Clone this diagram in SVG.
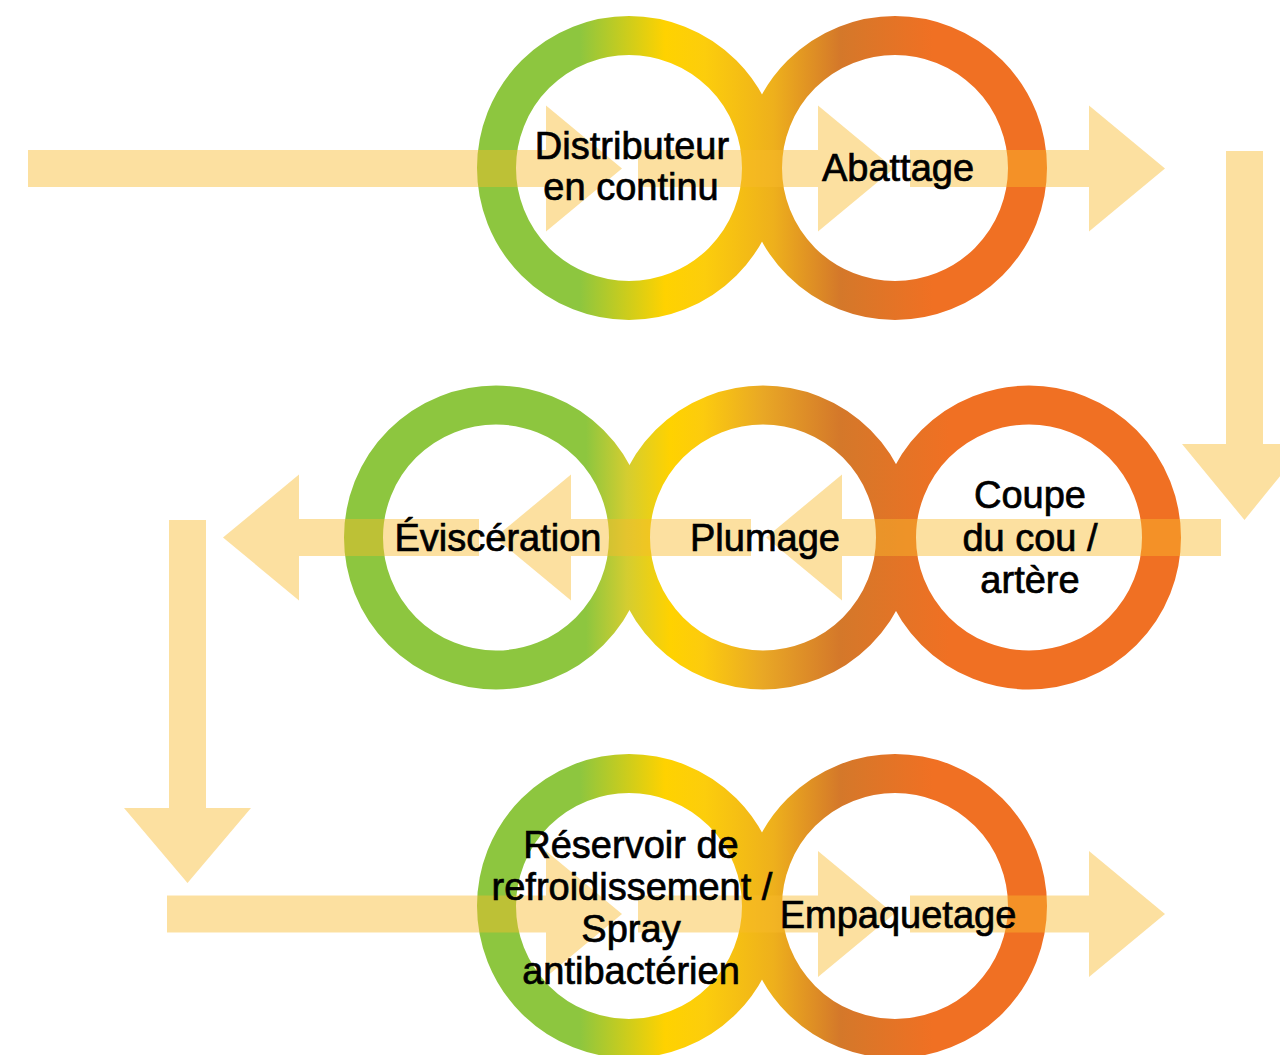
<svg xmlns="http://www.w3.org/2000/svg" width="1280" height="1055" viewBox="0 0 1280 1055">
<defs>
<linearGradient id="gTop" gradientUnits="userSpaceOnUse" x1="477" y1="0" x2="1047" y2="0">
<stop offset="0" stop-color="#8dc63f"/>
<stop offset="0.18" stop-color="#8dc63f"/>
<stop offset="0.33" stop-color="#ffd200"/>
<stop offset="0.40" stop-color="#fccd0c"/>
<stop offset="0.52" stop-color="#eeb01c"/>
<stop offset="0.637" stop-color="#d4782a"/>
<stop offset="0.80" stop-color="#f07023"/>
<stop offset="1" stop-color="#f07023"/>
</linearGradient>
<linearGradient id="gMid" gradientUnits="userSpaceOnUse" x1="343" y1="0" x2="1181" y2="0">
<stop offset="0" stop-color="#8dc63f"/>
<stop offset="0.290" stop-color="#8dc63f"/>
<stop offset="0.339" stop-color="#d4cd30"/>
<stop offset="0.391" stop-color="#ffd200"/>
<stop offset="0.430" stop-color="#fccb0e"/>
<stop offset="0.50" stop-color="#e9a825"/>
<stop offset="0.593" stop-color="#d4782a"/>
<stop offset="0.724" stop-color="#f07023"/>
<stop offset="1" stop-color="#f07023"/>
</linearGradient>
<style>
.ring{fill:none;stroke-width:39}
.arrow{fill:#f9bb2c;fill-opacity:0.45}
.lbl{font-family:"Liberation Sans",Arial,sans-serif;font-size:38px;fill:#000;stroke:#000;stroke-width:0.7;text-anchor:middle}
</style>
</defs>
<g id="rings">
<g id="node-distributeur"><circle class="ring" cx="629" cy="168" r="132.5" stroke="url(#gTop)"/></g>
<g id="node-abattage"><circle class="ring" cx="895" cy="168" r="132.5" stroke="url(#gTop)"/></g>
<g id="node-evisceration"><circle class="ring" cx="496" cy="537.5" r="132.5" stroke="url(#gMid)"/></g>
<g id="node-plumage"><circle class="ring" cx="763" cy="537.5" r="132.5" stroke="url(#gMid)"/></g>
<g id="node-coupe"><circle class="ring" cx="1029" cy="537.5" r="132.5" stroke="url(#gMid)"/></g>
<g id="node-reservoir"><circle class="ring" cx="629" cy="906" r="132.5" stroke="url(#gTop)"/></g>
<g id="node-empaquetage"><circle class="ring" cx="895" cy="906" r="132.5" stroke="url(#gTop)"/></g>
</g>
<g id="connectors">
<polygon class="arrow" points="28,150 546,150 546,105.5 622,168.5 546,231.5 546,187 28,187"/>
<polygon class="arrow" points="638,150 818,150 818,105.5 894,168.5 818,231.5 818,187 638,187"/>
<polygon class="arrow" points="910,150 1089,150 1089,105.5 1165,168.5 1089,231.5 1089,187 910,187"/>
<polygon class="arrow" points="1226,151 1263,151 1263,444 1306,444 1244.5,520 1182,444 1226,444"/>
<polygon class="arrow" points="1221,519 842,519 842,474.5 766,537.5 842,600.5 842,556 1221,556"/>
<polygon class="arrow" points="751,519 571,519 571,474.5 495,537.5 571,600.5 571,556 751,556"/>
<polygon class="arrow" points="479,519 299,519 299,474.5 223,537.5 299,600.5 299,556 479,556"/>
<polygon class="arrow" points="169,520 206,520 206,808 251,808 187.5,883 124,808 169,808"/>
<polygon class="arrow" points="167,895.5 546,895.5 546,851 622,914 546,977 546,932.5 167,932.5"/>
<polygon class="arrow" points="638,895.5 818,895.5 818,851 894,914 818,977 818,932.5 638,932.5"/>
<polygon class="arrow" points="910,895.5 1089,895.5 1089,851 1165,914 1089,977 1089,932.5 910,932.5"/>
</g>
<g id="labels">
<text class="lbl" x="632" y="159">Distributeur</text>
<text class="lbl" x="631" y="200">en continu</text>
<text class="lbl" x="898" y="181">Abattage</text>
<text class="lbl" x="498" y="551">Éviscération</text>
<text class="lbl" x="765" y="551">Plumage</text>
<text class="lbl" x="1030" y="508">Coupe</text>
<text class="lbl" x="1030" y="551">du cou /</text>
<text class="lbl" x="1030" y="593">artère</text>
<text class="lbl" x="631" y="858">Réservoir de</text>
<text class="lbl" x="632" y="900">refroidissement /</text>
<text class="lbl" x="631" y="942">Spray</text>
<text class="lbl" x="631" y="984">antibactérien</text>
<text class="lbl" x="898" y="928">Empaquetage</text>
</g>
</svg>
